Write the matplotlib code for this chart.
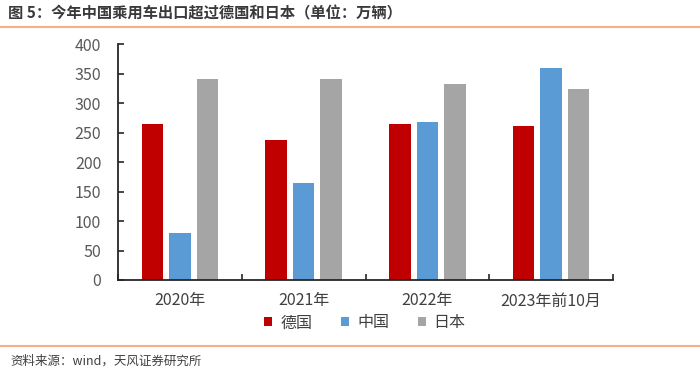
import matplotlib
matplotlib.use("Agg")
import matplotlib.pyplot as plt
import numpy as np

plt.rcParams['font.family'] = ['Noto Sans CJK SC', 'DejaVu Sans']

categories = ["2020年", "2021年", "2022年", "2023年前10月"]
series_names = ["德国", "中国", "日本"]
germany = [265, 237, 265, 261]
china = [80, 164, 267, 360]
japan = [341, 340, 333, 323]
colors = ["#C00000", "#5B9BD5", "#A5A5A5"]
yticks = [0, 50, 100, 150, 200, 250, 300, 350, 400]

W, H = 700, 373
fig = plt.figure(figsize=(W / 100, H / 100), dpi=100)
ax = fig.add_axes([118 / W, (H - 280) / H, (613 - 118) / W, (280 - 44) / H])

x = np.arange(len(categories))
bw = 0.175
off = 0.222
for i, (vals, c, name) in enumerate(zip([germany, china, japan], colors, series_names)):
    ax.bar(x + (i - 1) * off, vals, width=bw, color=c, label=name, zorder=2)

ax.set_xlim(-0.5, len(categories) - 0.5)
ax.set_ylim(0, 400)
ax.set_yticks(yticks)
ax.set_yticklabels([str(v) for v in yticks], fontsize=11.5, color="#595959")
ax.set_xticks(x)
ax.set_xticklabels(categories, fontsize=11.5, color="#404040")
ax.set_xticks(np.arange(len(categories) + 1) - 0.5, minor=True)
ax.tick_params(axis='x', which='major', length=0, pad=9)
ax.tick_params(axis='x', which='minor', length=4, direction='in', color='#262626', width=1.2)
ax.tick_params(axis='y', length=4, direction='in', color='#262626', width=1.2, pad=12)
for s in ['top', 'right']:
    ax.spines[s].set_visible(False)
for s in ['left', 'bottom']:
    ax.spines[s].set_color('#262626')
    ax.spines[s].set_linewidth(1.3)

leg = fig.legend(loc='center', bbox_to_anchor=(365 / W, (H - 323) / H), ncol=3, frameon=False,
                 fontsize=11.5, handlelength=0.5, handleheight=0.5, columnspacing=1.8, handletextpad=0.5)
for t in leg.get_texts():
    t.set_color("#404040")

fig.text(8 / W, (H - 13) / H, "图 5：今年中国乘用车出口超过德国和日本（单位：万辆）", fontsize=11,
         fontweight='bold', color="#3a3a3a", va='center', ha='left')
fig.add_artist(plt.Line2D([0, 1], [(H - 27) / H, (H - 27) / H], color="#F4B183", lw=1.5))
fig.add_artist(plt.Line2D([0, 1], [(H - 346) / H, (H - 346) / H], color="#F4B183", lw=1.5))
fig.text(10 / W, (H - 361) / H, "资料来源：wind，天风证券研究所", fontsize=9, color="#404040",
         va='center', ha='left')

fig.savefig("out.png", dpi=100)
